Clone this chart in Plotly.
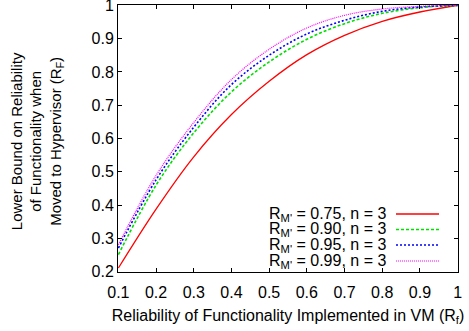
import plotly.graph_objects as go

# Data
x_vals = [0.1, 0.2, 0.3, 0.4, 0.5, 0.6, 0.7, 0.8, 0.9, 1.0]
r_075 = [0.211, 0.388, 0.545, 0.672, 0.772, 0.852, 0.910, 0.952, 0.980, 1.0]
r_090 = [0.251, 0.460, 0.617, 0.740, 0.830, 0.898, 0.945, 0.976, 0.993, 1.0]
r_095 = [0.271, 0.476, 0.634, 0.762, 0.850, 0.914, 0.955, 0.982, 0.995, 1.0]
r_099 = [0.281, 0.489, 0.648, 0.777, 0.868, 0.932, 0.970, 0.989, 0.997, 1.0]

series_names = ["R<sub>M'</sub> = 0.75, n = 3", "R<sub>M'</sub> = 0.90, n = 3",
                "R<sub>M'</sub> = 0.95, n = 3", "R<sub>M'</sub> = 0.99, n = 3"]
series_vals = [r_075, r_090, r_095, r_099]
colors = ["#ff0000", "#00e000", "#0000ff", "#ff00ff"]
dashes = ["solid", "3px,2px", "2px,2px", "1px,1px"]
widths = [1.3, 1.6, 1.6, 1.2]

x_ticks = [0.1, 0.2, 0.3, 0.4, 0.5, 0.6, 0.7, 0.8, 0.9, 1.0]
x_ticklabels = ["0.1", "0.2", "0.3", "0.4", "0.5", "0.6", "0.7", "0.8", "0.9", "1"]
y_ticks = [0.2, 0.3, 0.4, 0.5, 0.6, 0.7, 0.8, 0.9, 1.0]
y_ticklabels = ["0.2", "0.3", "0.4", "0.5", "0.6", "0.7", "0.8", "0.9", "1"]

FONT = "Liberation Sans, Arial, sans-serif"
FS = 16

fig = go.Figure()
for name, vals, c, d, w in zip(series_names, series_vals, colors, dashes, widths):
    fig.add_trace(go.Scatter(x=x_vals, y=vals, mode="lines", name=name,
                             line=dict(color=c, dash=d, width=w, shape="spline"),
                             showlegend=False))

# Legend drawn gnuplot-style: text right-aligned, sample line to the right
W, H = 469, 331
L, R, T, B = 118, 11, 5, 59
pw, ph = W - L - R, H - T - B
leg_y = [214, 229.5, 245, 261]
for name, c, d, w, py in zip(series_names, colors, dashes, widths, leg_y):
    yp = 1 - (py - T) / ph
    fig.add_annotation(x=(388 - L) / pw, y=yp, xref="paper", yref="paper",
                       text=name, showarrow=False, xanchor="right", yanchor="middle",
                       font=dict(family=FONT, size=FS, color="black"))
    fig.add_shape(type="line", xref="paper", yref="paper",
                  x0=(396 - L) / pw, x1=(439 - L) / pw, y0=yp, y1=yp,
                  line=dict(color=c, dash=d, width=w))

fig.add_annotation(x=(37 - L) / pw, y=0.49, xref="paper", yref="paper",
                   text="Lower Bound on Reliability<br>of Functionality when<br>Moved to Hypervisor (R<sub>F</sub>)",
                   textangle=-90, showarrow=False, xanchor="center", yanchor="middle",
                   font=dict(family=FONT, size=15, color="black"))

fig.update_layout(
    width=W, height=H,
    margin=dict(l=L, r=R, t=T, b=B),
    plot_bgcolor="white", paper_bgcolor="white",
    font=dict(family=FONT, size=FS, color="black"),
    xaxis=dict(range=[0.099, 1.001], tickmode="array", tickvals=x_ticks, ticktext=x_ticklabels,
               ticks="inside", ticklen=4, tickcolor="black", mirror="ticks",
               ticklabeloverflow="allow", automargin=False, ticklabelstandoff=6,
               showline=True, linecolor="black", linewidth=1, showgrid=False, zeroline=False,
               tickfont=dict(family=FONT, size=FS),
               title=dict(text="Reliability of Functionality Implemented in VM (R<sub>f</sub>)",
                          standoff=9, font=dict(family=FONT, size=FS))),
    yaxis=dict(range=[0.199, 1.001], tickmode="array", tickvals=y_ticks, ticktext=y_ticklabels,
               ticks="inside", ticklen=4, tickcolor="black", mirror="ticks",
               ticklabeloverflow="allow", automargin=False,
               showline=True, linecolor="black", linewidth=1, showgrid=False, zeroline=False,
               tickfont=dict(family=FONT, size=FS)),
)

fig.write_html("out.html", config={"displayModeBar": False},
               post_script="document.body.style.margin='0';document.body.style.overflow='hidden';")
